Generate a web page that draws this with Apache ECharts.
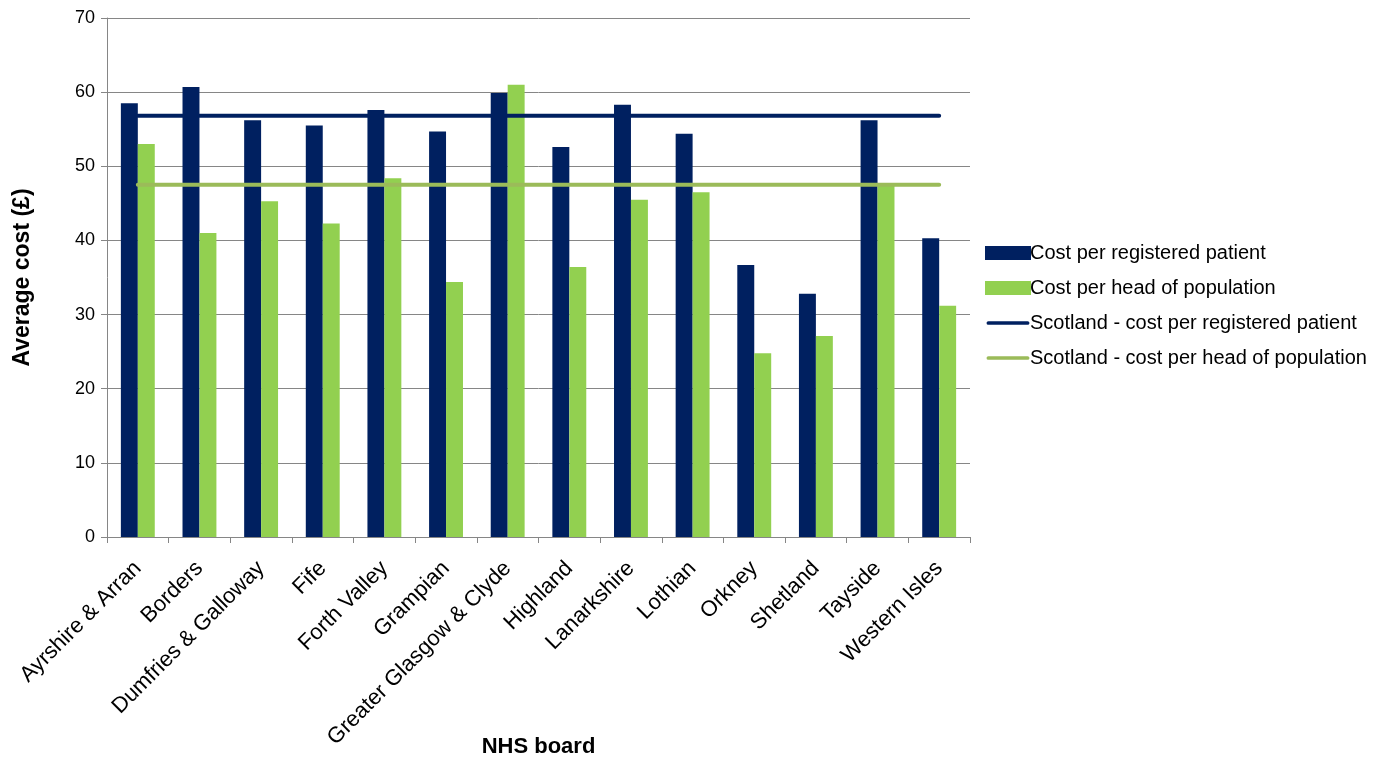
<!DOCTYPE html>
<html><head><meta charset="utf-8">
<script src="https://cdn.jsdelivr.net/npm/echarts@6/dist/echarts.min.js"></script>
<style>html,body{margin:0;padding:0;background:#fff}#c{width:1386px;height:760px}</style>
</head><body><div id="c"></div>
<script>
const categories = ['Ayrshire & Arran','Borders','Dumfries & Galloway','Fife','Forth Valley','Grampian','Greater Glasgow & Clyde','Highland','Lanarkshire','Lothian','Orkney','Shetland','Tayside','Western Isles'];
const costPerPatient = [58.5, 60.7, 56.2, 55.5, 57.6, 54.7, 59.9, 52.6, 58.3, 54.4, 36.7, 32.8, 56.2, 40.3];
const costPerHead = [53.0, 41.0, 45.3, 42.3, 48.4, 34.4, 61.0, 36.4, 45.5, 46.5, 24.8, 27.1, 47.7, 31.2];
const scotlandPerPatient = 56.8;
const scotlandPerHead = 47.5;
const seriesNames = ['Cost per registered patient','Cost per head of population','Scotland - cost per registered patient','Scotland - cost per head of population'];
const yTicks = {min: 0, max: 70, interval: 10};

const chart = echarts.init(document.getElementById('c'), null, {renderer: 'canvas'});
const font = 'Liberation Sans, Arial, sans-serif';
const lineIcon = 'path://M0,0 L0.01,0 Z M0,15 L0.01,15 Z M2,5.5 L44,5.5 A2,2 0 0 1 44,9.5 L2,9.5 A2,2 0 0 1 2,5.5 Z';
chart.setOption({
  animation: false,
  grid: {left: 107, right: 416, top: 18, bottom: 223, containLabel: false, outerBoundsMode: 'none'},
  legend: {
    orient: 'vertical', left: 980, top: 238, itemGap: 15, itemWidth: 46, itemHeight: 14,
    textStyle: {fontFamily: font, fontSize: 20, color: '#000', padding: [0,0,0,-6]},
    data: [
      {name: seriesNames[0], icon: 'rect'},
      {name: seriesNames[1], icon: 'rect'},
      {name: seriesNames[2], icon: lineIcon},
      {name: seriesNames[3], icon: lineIcon}
    ]
  },
  xAxis: {
    type: 'category', data: categories, boundaryGap: true,
    name: 'NHS board', nameLocation: 'middle', nameGap: 199, nameMoveOverlap: false,
    nameTextStyle: {fontFamily: font, fontSize: 22, fontWeight: 'bold', color: '#000'},
    axisLine: {lineStyle: {color: '#868686', width: 1}},
    axisTick: {show: true, alignWithLabel: false, length: 6, lineStyle: {color: '#868686'}},
    axisLabel: {rotate: 45, interval: 0, fontFamily: font, fontSize: 22, color: '#000', margin: 28}
  },
  yAxis: {
    type: 'value', min: yTicks.min, max: yTicks.max, interval: yTicks.interval,
    name: 'Average cost (£)', nameLocation: 'middle', nameGap: 73, nameMoveOverlap: false,
    nameTextStyle: {fontFamily: font, fontSize: 23, fontWeight: 'bold', color: '#000'},
    axisLine: {show: true, lineStyle: {color: '#868686'}},
    axisTick: {show: true, length: 6, lineStyle: {color: '#868686'}},
    axisLabel: {fontFamily: font, fontSize: 18, color: '#000', margin: 12},
    splitLine: {show: true, lineStyle: {color: '#868686', width: 1}}
  },
  series: [
    {name: seriesNames[0], type: 'bar', data: costPerPatient, barGap: '0%', barCategoryGap: '45%',
     itemStyle: {color: '#002060'}, z: 2},
    {name: seriesNames[1], type: 'bar', data: costPerHead,
     itemStyle: {color: '#92D050'}, z: 2},
    {name: seriesNames[2], type: 'line', data: categories.map(() => scotlandPerPatient),
     symbol: 'none', lineStyle: {color: '#002060', width: 4, cap: 'round'}, itemStyle: {color: '#002060'}, z: 3},
    {name: seriesNames[3], type: 'line', data: categories.map(() => scotlandPerHead),
     symbol: 'none', lineStyle: {color: '#9BBB59', width: 4, cap: 'round'}, itemStyle: {color: '#9BBB59'}, z: 3}
  ]
});
</script></body></html>
